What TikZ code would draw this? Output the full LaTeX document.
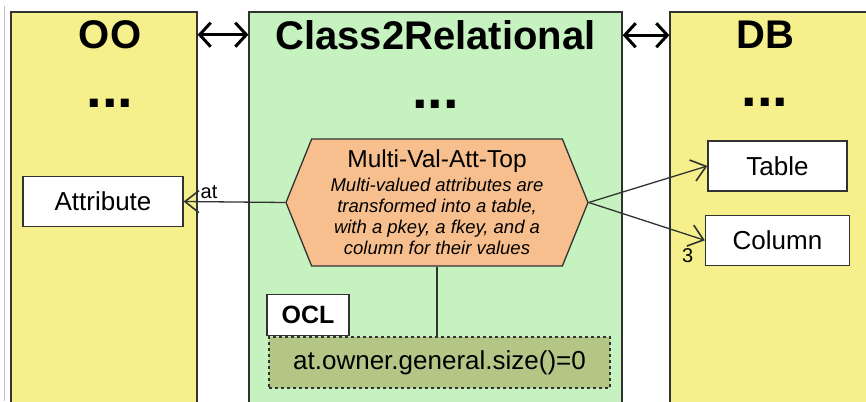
\documentclass[tikz,border=0pt]{standalone}
\usepackage{fontspec}
\setmainfont{Liberation Sans}
\usetikzlibrary{positioning,shapes.symbols,arrows.meta}

\definecolor{panelyellow}{RGB}{245,240,140}
\definecolor{panelgreen}{RGB}{198,242,192}
\definecolor{ruleorange}{RGB}{248,191,142}
\definecolor{oclolive}{RGB}{180,198,134}
\definecolor{edgegray}{RGB}{50,50,50}

\tikzset{
  panel/.style={draw=edgegray, line width=1.3pt, minimum height=418pt, inner sep=0pt},
  paneltitle/.style={font=\fontsize{40}{44}\selectfont\bfseries, inner sep=0pt},
  paneldots/.style={font=\fontsize{56}{56}\selectfont\bfseries, inner sep=0pt},
  classbox/.style={draw=edgegray, fill=white, line width=1.3pt, minimum height=50pt,
    inner sep=0pt, font=\fontsize{26}{30}\selectfont},
  rulehex/.style={signal, signal to=west and east, signal pointer angle=136,
    draw=edgegray, fill=ruleorange, line width=1.3pt, minimum width=302pt,
    minimum height=127pt, inner sep=0pt, align=center,
    font=\fontsize{18.5}{21}\selectfont\itshape},
  ocltab/.style={draw=edgegray, fill=white, line width=1.3pt, minimum width=82pt,
    minimum height=41pt, inner sep=0pt, font=\fontsize{25}{30}\selectfont\bfseries},
  oclbox/.style={draw=edgegray, fill=oclolive, dashed, line width=1.3pt, minimum width=341pt,
    minimum height=51pt, inner sep=0pt, font=\fontsize{26}{30}\selectfont},
  link/.style={draw=edgegray, line width=1.3pt, -{Straight Barb[length=14pt,width=22pt,line width=1.6pt]}},
  bilink/.style={draw=black, line width=3pt, {Straight Barb[length=11pt,width=24pt]}-{Straight Barb[length=11pt,width=24pt]}},
  rolelabel/.style={font=\fontsize{20}{22}\selectfont, inner sep=1pt}
}

\begin{document}
\begin{tikzpicture}[x=1pt, y=-1pt]
  \useasboundingbox (0,0) rectangle (866,401);
  \fill[white] (0,0) rectangle (866,401);
  \clip (0,0) rectangle (866,401);
  \draw[black!25, line width=0.8pt] (4,6) -- (4,401);
  % Define panels
  \node[panel, fill=panelyellow, minimum width=186pt] (oo) at (104,221) {};
  \node[panel, fill=panelgreen, minimum width=373pt] (c2r) at (435.5,221) {};
  \node[panel, fill=panelyellow, minimum width=210pt] (db) at (775,221) {};
  \node[paneltitle, below=9pt of oo.north, xshift=6pt] (ootitle) {OO};
  \node[paneltitle, below=9pt of c2r.north] (c2rtitle) {Class2Relational};
  \node[paneltitle, below=9pt of db.north, xshift=-10pt] (dbtitle) {DB};
  \node[paneldots, below=50pt of ootitle] (oodots) {...};
  \node[paneldots, below=50pt of c2rtitle] (c2rdots) {...};
  \node[paneldots, below=50pt of dbtitle] (dbdots) {...};
  % links between the panels
  \draw[bilink] (oo.east |- ootitle) -- (c2r.west |- ootitle);
  \draw[bilink] (c2r.east |- c2rtitle) -- (db.west |- c2rtitle);
  % classes and the rule
  \node[classbox, minimum width=160pt] (attr) at (103,201.5) {Attribute};
  \node[classbox, minimum width=139pt] (table) at (777.5,166) {Table};
  \node[classbox, minimum width=144pt, below=23pt of table] (column) {Column};
  \node[rulehex] (rule) at (437,202.5)
    {{\upshape\fontsize{24.5}{27}\selectfont Multi-Val-Att-Top}\\[3pt]
     Multi-valued attributes are\\
     transformed into a table,\\
     with a pkey, a fkey, and a\\
     column for their values};
  \node[oclbox] (oclbox) at (439.5,362.5) {at.owner.general.size()=0};
  \node[ocltab, above right=0pt and -2pt of oclbox.north west] (ocltab) {OCL};
  % connect rule to classes
  \draw[link] (rule.west) -- (attr.east) node[rolelabel, pos=0.75, above=1pt] {at};
  \draw[link] (rule.east) -- (table.west);
  \draw[link] (rule.east) -- (column.west)
    node[rolelabel, at end, anchor=north east, xshift=-10pt, yshift=-7pt] {3};
  % connect rule to its condition
  \draw[edgegray, line width=1.3pt] (rule.south) -- (rule.south |- oclbox.north);
\end{tikzpicture}
\end{document}
